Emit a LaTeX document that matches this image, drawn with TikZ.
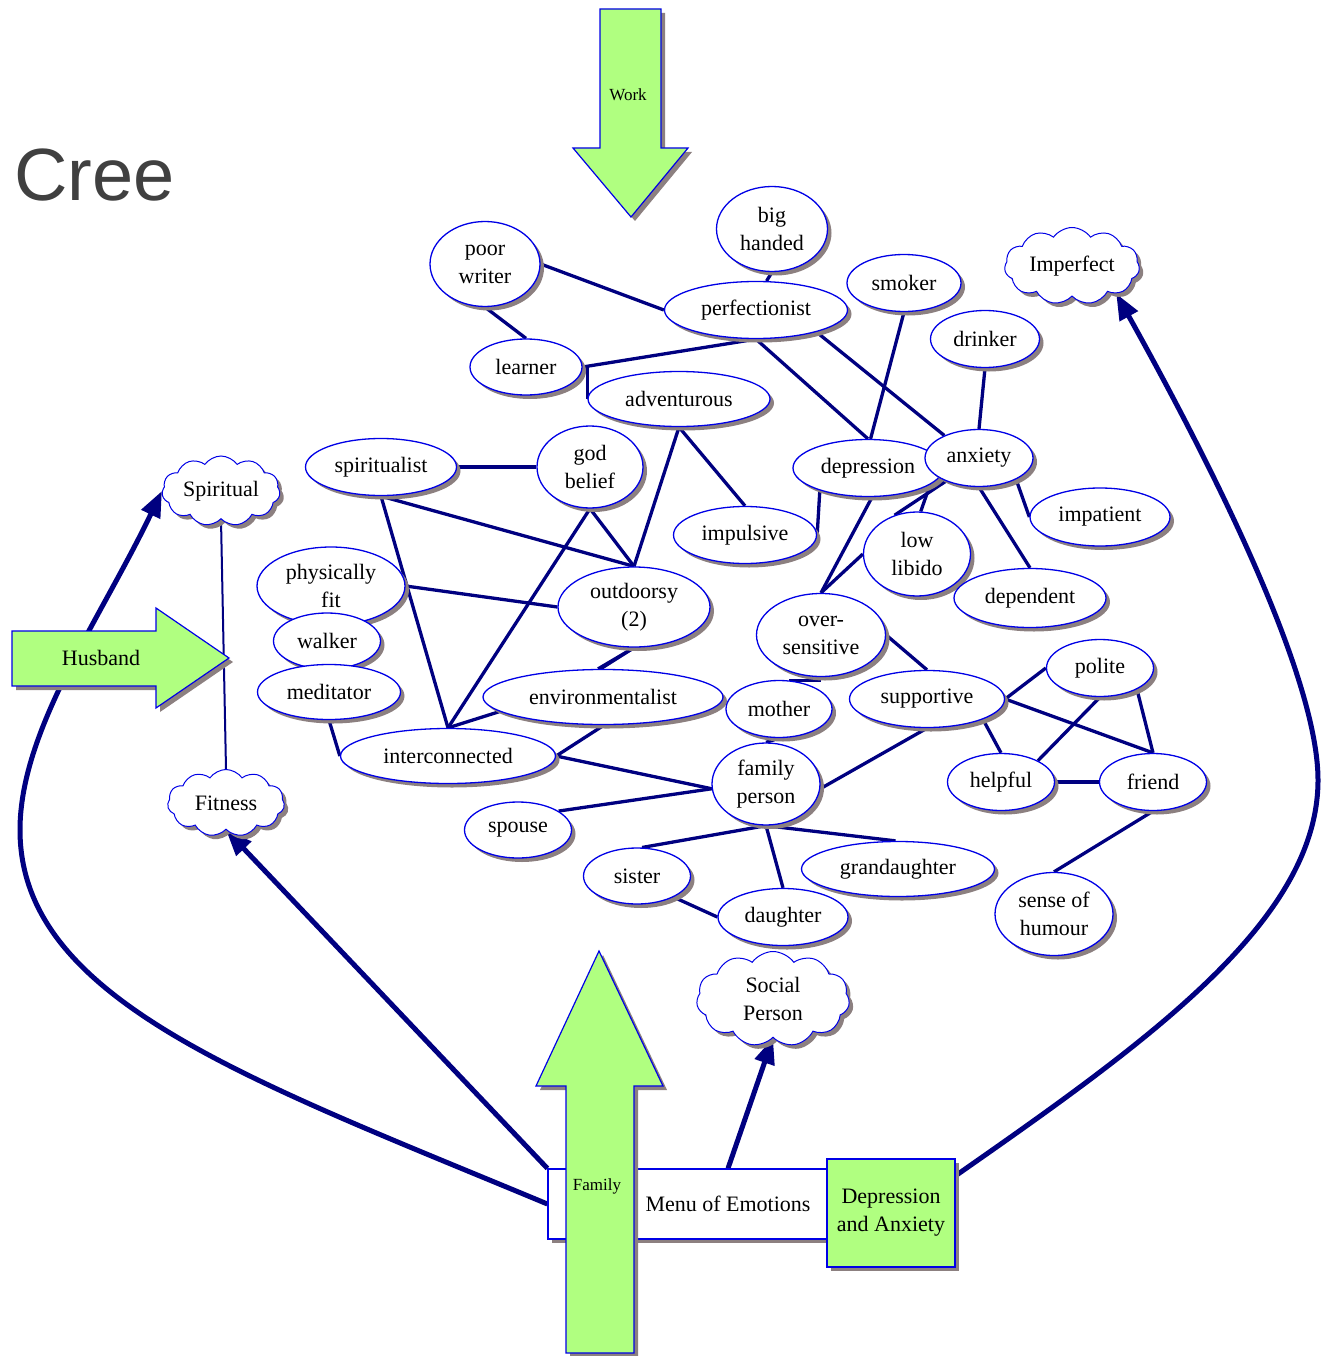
\documentclass[tikz,border=0pt]{standalone}
\usepackage{fontspec}
\setmainfont{Liberation Serif}
\newfontfamily\creefont{Liberation Sans}
\usetikzlibrary{shapes.geometric,shapes.symbols,shadows,arrows.meta}
\pgfdeclarelayer{background}
\pgfsetlayers{background,main}
\definecolor{navy}{RGB}{0,0,128}
\definecolor{nodeblue}{RGB}{0,0,230}
\definecolor{shadowc}{RGB}{140,128,128}
\definecolor{lightgreen}{RGB}{176,255,128}
\definecolor{creegray}{RGB}{64,64,64}
\newcommand{\nodefont}{\fontsize{22}{28}\selectfont}
\tikzset{
  shad/.style={drop shadow={shadow xshift=4pt,shadow yshift=-4pt,fill=shadowc,opacity=1}},
  sz/.style 2 args={minimum width=#1pt,minimum height=#2pt},
  el/.style={ellipse,draw=nodeblue,line width=1.3pt,fill=white,inner sep=0pt,font=\nodefont,align=center,shad},
  cl/.style={cloud,cloud puffs=11,cloud puff arc=110,cloud ignores aspect,draw=nodeblue,line width=1pt,fill=white,inner sep=0pt,font=\nodefont,align=center,shad},
  conn/.style={draw=navy,line width=3.3pt},
  thinconn/.style={draw=navy,line width=2pt},
  bigconn/.style={draw=navy,line width=5pt,-{Triangle[length=26pt,width=20pt]}},
  greenshape/.style={fill=lightgreen,draw=nodeblue,line width=1.2pt,shad},
  boxnode/.style={rectangle,draw=nodeblue,line width=1.2pt,inner sep=0pt,font=\nodefont,align=center,shad}
}
\begin{document}
\begin{tikzpicture}[x=1pt,y=-1pt]
\useasboundingbox (0,0) rectangle (1325,1356);

% title
\node[anchor=base west,inner sep=0pt,text=creegray,font=\creefont\fontsize{74}{80}\selectfont] (title) at (14,201) {Cree};

% big green arrows
\filldraw[greenshape] (600,9) -- (661,9) -- (661,148) -- (688,148) -- (631,217) -- (573,148) -- (600,148) -- cycle;
\node[font=\fontsize{17}{20}\selectfont] (worklbl) at (628,95) {Work};
\filldraw[greenshape] (12,631) -- (156,631) -- (156,608) -- (229,658) -- (156,708) -- (156,686) -- (12,686) -- cycle;
\node[font=\nodefont] (husbandlbl) at (101,658) {Husband};

% ellipses
\node[el,sz={110}{85}] (pw) at (485,264) {poor\\writer};
\node[el,sz={111}{85}] (big) at (772,229) {big\\handed};
\node[el,sz={183}{57}] (perf) at (756,310) {perfectionist};
\node[el,sz={114}{57}] (smk) at (904,283) {smoker};
\node[cl,sz={135}{77}] (impf) at (1072,266) {Imperfect};
\node[el,sz={109}{57}] (drk) at (985,339) {drinker};
\node[el,sz={112}{56}] (lrn) at (526,367) {learner};
\node[el,sz={182}{55}] (adv) at (679,399) {adventurous};
\node[el,sz={151}{57}] (spl) at (381,467) {spiritualist};
\node[el,sz={106}{82}] (god) at (590,467) {god\\belief};
\node[el,sz={150}{57}] (dep) at (868,468) {depression};
\node[el,sz={108}{57}] (anx) at (979,458) {anxiety};
\node[el,sz={143}{57}] (impl) at (745,535) {impulsive};
\node[el,sz={140}{58}] (impt) at (1100,517) {impatient};
\node[el,sz={107}{84}] (low) at (917,554) {low\\libido};
\node[cl,sz={118}{70}] (spc) at (221,491) {Spiritual};
\node[el,sz={148}{78}] (pf) at (331,586) {physically\\fit};
\node[el,sz={152}{80}] (out) at (634,607) {outdoorsy\\(2)};
\node[el,sz={152}{59}] (dpd) at (1030,598) {dependent};
\node[el,sz={129}{83}] (ovs) at (821,635) {over-\\sensitive};
\node[el,sz={107}{56}] (wlk) at (327,641) {walker};
\node[el,sz={107}{57}] (pol) at (1100,668) {polite};
\node[el,sz={143}{55}] (med) at (329,692) {meditator};
\node[el,sz={240}{55}] (env) at (603,697) {environmentalist};
\node[el,sz={106}{57}] (mot) at (779,709) {mother};
\node[el,sz={155}{57}] (sup) at (927,699) {supportive};
\node[el,sz={215}{55}] (int) at (448,756) {interconnected};
\node[el,sz={108}{82}] (fam) at (766,784) {family\\person};
\node[el,sz={107}{57}] (hlp) at (1001,782) {helpful};
\node[el,sz={107}{57}] (fr) at (1153,782) {friend};
\node[cl,sz={117}{67}] (fit) at (226,803) {Fitness};
\node[el,sz={107}{56}] (sps) at (518,830) {spouse};
\node[el,sz={107}{56}] (sis) at (637,876) {sister};
\node[el,sz={193}{55}] (gd) at (898,869) {grandaughter};
\node[el,sz={130}{57}] (dau) at (783,917) {daughter};
\node[el,sz={118}{83}] (hum) at (1054,914) {sense of\\humour};
\node[cl,sz={153}{95}] (soc) at (773,999) {Social\\Person};

% bottom boxes
\node[boxnode,fill=white,sz={360}{70}] (menu) at (728,1204) {Menu of Emotions};
\filldraw[greenshape] (566,1353) -- (566,1086) -- (536,1086) -- (599,951) -- (663,1086) -- (634,1086) -- (634,1353) -- cycle;
\node[font=\fontsize{17}{20}\selectfont] (familylbl) at (597,1186) {Family};
\node[boxnode,fill=lightgreen,sz={128}{108}] (depbox) at (891,1213) {Depression\\and Anxiety};

\begin{pgfonlayer}{background}
\draw[conn] (pw.east) -- (perf.west);
\draw[conn] (pw.south) -- (lrn.north);
\draw[conn] (big.south) -- (perf.70);
\draw[conn] (lrn.east) -- (perf.south);
\draw[conn] (lrn.east) -| (adv.west);
\draw[conn] (perf.south) -- (dep.north);
\draw[conn] (perf.-20) -- (anx.147);
\draw[conn] (smk.south) -- (dep.85);
\draw[conn] (drk.south) -- (anx.north);
\draw[conn] (anx.-30) -- (impt.west);
\draw[conn] (anx.south) -- (dpd.north);
\draw[conn] (ovs.north) -- (low.west);
\draw[conn] (low.120) -- (anx.215);
\draw[conn] (low.85) -- (dep.-15);
\draw[conn] (dep.-82) -- (ovs.north);
\draw[conn] (dep.205) -- (impl.east);
\draw[conn] (adv.south) -- (impl.north);
\draw[conn] (adv.south) -- (out.north);
\draw[conn] (spl.east) -- (god.west);
\draw[conn] (spl.south) -- (out.north);
\draw[conn] (spl.south) -- (int.north);
\draw[conn] (god.south) -- (out.north);
\draw[conn] (god.south) -- (int.north);
\draw[conn] (pf.east) -- (out.west);
\draw[conn] (out.south) -- (env.100);
\draw[conn] (out.south) -- (env.95);
\draw[conn] (env.188) -- (int.north);
\draw[conn] (med.south) -- (int.west);
\draw[conn] (int.east) -- (env.-88);
\draw[conn] (int.east) -- (fam.185);
\draw[conn] (sps.25) -- (fam.185);
\draw[conn] (fam.south) -- (sis.80);
\draw[conn] (fam.south) -- (dau.north);
\draw[conn] (fam.south) -- (gd.95);
\draw[conn] (sis.-30) -- (dau.west);
\draw[conn] (fam.-5) -- (sup.south);
\draw[conn] (mot.70) -- (mot.70 -| ovs.south);
\draw[conn] (fam.north) -- (mot.south);
\draw[conn] (ovs.east) -- (sup.north);
\draw[conn] (sup.east) -- (pol.west);
\draw[conn] (sup.east) -- (fr.north);
\draw[conn] (sup.-20) -- (hlp.north);
\draw[conn] (pol.south) -- (hlp.30);
\draw[conn] (pol.-30) -- (fr.north);
\draw[conn] (hlp.east) -- (fr.west);
\draw[conn] (fr.south) -- (hum.north);
\draw[thinconn] (spc.south) -- (fit.north);
% big connectors
\draw[bigconn] (menu.west) .. controls (250,1080) and (20,1000) .. (20,830) .. controls (20,730) and (100,620) .. (spc.west);
\draw[bigconn] (menu.north west) -- (fit.south);
\draw[bigconn] (menu.north) -- (soc.south);
\draw[bigconn] (depbox.30) .. controls (1150,1040) and (1318,920) .. (1318,780) .. controls (1318,680) and (1220,480) .. (impf.-32);
\end{pgfonlayer}
\end{tikzpicture}
\end{document}
